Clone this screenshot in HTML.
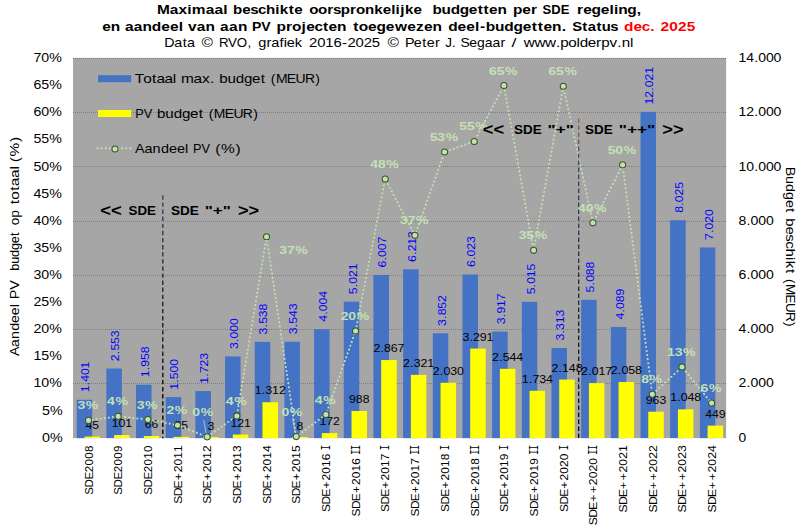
<!DOCTYPE html>
<html><head><meta charset="utf-8"><title>SDE budgetten</title>
<style>html,body{margin:0;padding:0;background:#fff}svg{display:block}text{font-family:"Liberation Sans",sans-serif}text.mono{font-family:"Liberation Mono",monospace}</style>
</head><body>
<svg width="801" height="531" viewBox="0 0 801 531" font-family="Liberation Sans, sans-serif">
<rect x="0" y="0" width="801" height="531" fill="#fff"/>
<rect x="73.00" y="57.9" width="653.15" height="380.2" fill="#a6a6a6"/>
<line x1="73" x2="726.15" y1="383.50" y2="383.50" stroke="#7c7c7c" stroke-width="1" stroke-dasharray="1,1"/>
<line x1="73" x2="726.15" y1="329.50" y2="329.50" stroke="#7c7c7c" stroke-width="1" stroke-dasharray="1,1"/>
<line x1="73" x2="726.15" y1="275.50" y2="275.50" stroke="#7c7c7c" stroke-width="1" stroke-dasharray="1,1"/>
<line x1="73" x2="726.15" y1="221.50" y2="221.50" stroke="#7c7c7c" stroke-width="1" stroke-dasharray="1,1"/>
<line x1="73" x2="726.15" y1="166.50" y2="166.50" stroke="#7c7c7c" stroke-width="1" stroke-dasharray="1,1"/>
<line x1="73" x2="726.15" y1="112.50" y2="112.50" stroke="#7c7c7c" stroke-width="1" stroke-dasharray="1,1"/>
<line x1="73" x2="726.15" y1="58.50" y2="58.50" stroke="#7c7c7c" stroke-width="1" stroke-dasharray="1,1"/>
<rect x="76.70" y="399.81" width="15.5" height="38.29" fill="#4472c4"/>
<rect x="106.37" y="368.58" width="15.5" height="69.52" fill="#4472c4"/>
<rect x="136.05" y="384.71" width="15.5" height="53.39" fill="#4472c4"/>
<rect x="165.72" y="397.13" width="15.5" height="40.97" fill="#4472c4"/>
<rect x="195.40" y="391.08" width="15.5" height="47.02" fill="#4472c4"/>
<rect x="225.07" y="356.46" width="15.5" height="81.64" fill="#4472c4"/>
<rect x="254.74" y="341.87" width="15.5" height="96.23" fill="#4472c4"/>
<rect x="284.42" y="341.73" width="15.5" height="96.37" fill="#4472c4"/>
<rect x="314.09" y="329.23" width="15.5" height="108.87" fill="#4472c4"/>
<rect x="343.77" y="301.66" width="15.5" height="136.44" fill="#4472c4"/>
<rect x="373.44" y="274.92" width="15.5" height="163.18" fill="#4472c4"/>
<rect x="403.11" y="269.34" width="15.5" height="168.76" fill="#4472c4"/>
<rect x="432.79" y="333.36" width="15.5" height="104.74" fill="#4472c4"/>
<rect x="462.46" y="274.49" width="15.5" height="163.61" fill="#4472c4"/>
<rect x="492.14" y="331.59" width="15.5" height="106.51" fill="#4472c4"/>
<rect x="521.81" y="301.82" width="15.5" height="136.28" fill="#4472c4"/>
<rect x="551.48" y="347.97" width="15.5" height="90.13" fill="#4472c4"/>
<rect x="581.16" y="299.84" width="15.5" height="138.26" fill="#4472c4"/>
<rect x="610.83" y="326.93" width="15.5" height="111.17" fill="#4472c4"/>
<rect x="640.51" y="111.86" width="15.5" height="326.24" fill="#4472c4"/>
<rect x="670.18" y="220.21" width="15.5" height="217.89" fill="#4472c4"/>
<rect x="699.85" y="247.46" width="15.5" height="190.64" fill="#4472c4"/>
<rect x="84.45" y="436.58" width="15.5" height="1.52" fill="#ffff00"/>
<rect x="114.12" y="435.06" width="15.5" height="3.04" fill="#ffff00"/>
<rect x="143.80" y="436.01" width="15.5" height="2.09" fill="#ffff00"/>
<rect x="173.47" y="436.85" width="15.5" height="1.25" fill="#ffff00"/>
<rect x="203.15" y="437.00" width="15.5" height="1.10" fill="#ffff00"/>
<rect x="232.82" y="434.52" width="15.5" height="3.58" fill="#ffff00"/>
<rect x="262.49" y="402.23" width="15.5" height="35.87" fill="#ffff00"/>
<rect x="292.17" y="437.00" width="15.5" height="1.10" fill="#ffff00"/>
<rect x="321.84" y="433.14" width="15.5" height="4.96" fill="#ffff00"/>
<rect x="351.52" y="411.01" width="15.5" height="27.09" fill="#ffff00"/>
<rect x="381.19" y="360.06" width="15.5" height="78.04" fill="#ffff00"/>
<rect x="410.86" y="374.87" width="15.5" height="63.23" fill="#ffff00"/>
<rect x="440.54" y="382.76" width="15.5" height="55.34" fill="#ffff00"/>
<rect x="470.21" y="348.57" width="15.5" height="89.53" fill="#ffff00"/>
<rect x="499.89" y="368.82" width="15.5" height="69.28" fill="#ffff00"/>
<rect x="529.56" y="390.78" width="15.5" height="47.32" fill="#ffff00"/>
<rect x="559.23" y="379.56" width="15.5" height="58.54" fill="#ffff00"/>
<rect x="588.91" y="383.11" width="15.5" height="54.99" fill="#ffff00"/>
<rect x="618.58" y="382.00" width="15.5" height="56.10" fill="#ffff00"/>
<rect x="648.26" y="411.69" width="15.5" height="26.41" fill="#ffff00"/>
<rect x="677.93" y="409.38" width="15.5" height="28.72" fill="#ffff00"/>
<rect x="707.60" y="425.63" width="15.5" height="12.47" fill="#ffff00"/>
<g transform="translate(89.45,392.31) rotate(-90)" fill="#0000ff" font-size="10.8"><text transform="translate(0.00,0) scale(1.135,1)" x="-0.05 6.10 9.25 15.16 21.07">1.401</text></g>
<g transform="translate(119.12,361.08) rotate(-90)" fill="#0000ff" font-size="10.8"><text transform="translate(0.00,0) scale(1.135,1)" x="-0.05 6.10 9.25 15.16 21.07">2.553</text></g>
<g transform="translate(148.80,377.21) rotate(-90)" fill="#0000ff" font-size="10.8"><text transform="translate(0.00,0) scale(1.135,1)" x="-0.05 6.10 9.25 15.16 21.07">1.958</text></g>
<g transform="translate(178.47,389.63) rotate(-90)" fill="#0000ff" font-size="10.8"><text transform="translate(0.00,0) scale(1.135,1)" x="-0.05 6.10 9.25 15.16 21.07">1.500</text></g>
<g transform="translate(208.15,383.58) rotate(-90)" fill="#0000ff" font-size="10.8"><text transform="translate(0.00,0) scale(1.135,1)" x="-0.05 6.10 9.25 15.16 21.07">1.723</text></g>
<g transform="translate(237.82,348.96) rotate(-90)" fill="#0000ff" font-size="10.8"><text transform="translate(0.00,0) scale(1.135,1)" x="-0.05 6.10 9.25 15.16 21.07">3.000</text></g>
<g transform="translate(267.49,334.37) rotate(-90)" fill="#0000ff" font-size="10.8"><text transform="translate(0.00,0) scale(1.135,1)" x="-0.05 6.10 9.25 15.16 21.07">3.538</text></g>
<g transform="translate(297.17,334.23) rotate(-90)" fill="#0000ff" font-size="10.8"><text transform="translate(0.00,0) scale(1.135,1)" x="-0.05 6.10 9.25 15.16 21.07">3.543</text></g>
<g transform="translate(326.84,321.73) rotate(-90)" fill="#0000ff" font-size="10.8"><text transform="translate(0.00,0) scale(1.135,1)" x="-0.05 6.10 9.25 15.16 21.07">4.004</text></g>
<g transform="translate(356.52,294.16) rotate(-90)" fill="#0000ff" font-size="10.8"><text transform="translate(0.00,0) scale(1.135,1)" x="-0.05 6.10 9.25 15.16 21.07">5.021</text></g>
<g transform="translate(386.19,267.42) rotate(-90)" fill="#0000ff" font-size="10.8"><text transform="translate(0.00,0) scale(1.135,1)" x="-0.05 6.10 9.25 15.16 21.07">6.007</text></g>
<g transform="translate(415.86,261.84) rotate(-90)" fill="#0000ff" font-size="10.8"><text transform="translate(0.00,0) scale(1.135,1)" x="-0.05 6.10 9.25 15.16 21.07">6.213</text></g>
<g transform="translate(445.54,325.86) rotate(-90)" fill="#0000ff" font-size="10.8"><text transform="translate(0.00,0) scale(1.135,1)" x="-0.05 6.10 9.25 15.16 21.07">3.852</text></g>
<g transform="translate(475.21,266.99) rotate(-90)" fill="#0000ff" font-size="10.8"><text transform="translate(0.00,0) scale(1.135,1)" x="-0.05 6.10 9.25 15.16 21.07">6.023</text></g>
<g transform="translate(504.89,324.09) rotate(-90)" fill="#0000ff" font-size="10.8"><text transform="translate(0.00,0) scale(1.135,1)" x="-0.05 6.10 9.25 15.16 21.07">3.917</text></g>
<g transform="translate(534.56,294.32) rotate(-90)" fill="#0000ff" font-size="10.8"><text transform="translate(0.00,0) scale(1.135,1)" x="-0.05 6.10 9.25 15.16 21.07">5.015</text></g>
<g transform="translate(564.23,340.47) rotate(-90)" fill="#0000ff" font-size="10.8"><text transform="translate(0.00,0) scale(1.135,1)" x="-0.05 6.10 9.25 15.16 21.07">3.313</text></g>
<g transform="translate(593.91,292.34) rotate(-90)" fill="#0000ff" font-size="10.8"><text transform="translate(0.00,0) scale(1.135,1)" x="-0.05 6.10 9.25 15.16 21.07">5.088</text></g>
<g transform="translate(623.58,319.43) rotate(-90)" fill="#0000ff" font-size="10.8"><text transform="translate(0.00,0) scale(1.135,1)" x="-0.05 6.10 9.25 15.16 21.07">4.089</text></g>
<g transform="translate(653.26,104.36) rotate(-90)" fill="#0000ff" font-size="10.8"><text transform="translate(0.00,0) scale(1.132,1)" x="-0.04 5.89 12.05 15.21 21.14 27.07">12.021</text></g>
<g transform="translate(682.93,212.71) rotate(-90)" fill="#0000ff" font-size="10.8"><text transform="translate(0.00,0) scale(1.135,1)" x="-0.05 6.10 9.25 15.16 21.07">8.025</text></g>
<g transform="translate(712.60,239.96) rotate(-90)" fill="#0000ff" font-size="10.8"><text transform="translate(0.00,0) scale(1.135,1)" x="-0.05 6.10 9.25 15.16 21.07">7.020</text></g>
<g transform="translate(92.20,428.68)" fill="#000" font-size="10.8"><text transform="translate(-6.77,0) scale(1.128,1)" x="0.00 6.01">45</text></g>
<g transform="translate(121.87,427.16)" fill="#000" font-size="10.8"><text transform="translate(-10.16,0) scale(1.128,1)" x="0.00 6.01 12.01">101</text></g>
<g transform="translate(151.55,428.11)" fill="#000" font-size="10.8"><text transform="translate(-6.77,0) scale(1.128,1)" x="0.00 6.01">66</text></g>
<g transform="translate(181.22,428.95)" fill="#000" font-size="10.8"><text transform="translate(-6.77,0) scale(1.128,1)" x="0.00 6.01">35</text></g>
<g transform="translate(210.90,429.82)" fill="#000" font-size="10.8"><text transform="translate(-3.39,0) scale(1.128,1)" x="0.00">3</text></g>
<g transform="translate(240.57,426.62)" fill="#000" font-size="10.8"><text transform="translate(-10.16,0) scale(1.128,1)" x="0.00 6.01 12.01">121</text></g>
<g transform="translate(270.24,394.33)" fill="#000" font-size="10.8"><text transform="translate(-15.49,0) scale(1.146,1)" x="-0.05 6.10 9.25 15.16 21.07">1.312</text></g>
<g transform="translate(299.92,429.68)" fill="#000" font-size="10.8"><text transform="translate(-3.39,0) scale(1.128,1)" x="0.00">8</text></g>
<g transform="translate(329.59,425.24)" fill="#000" font-size="10.8"><text transform="translate(-10.16,0) scale(1.128,1)" x="0.00 6.01 12.01">172</text></g>
<g transform="translate(359.27,403.11)" fill="#000" font-size="10.8"><text transform="translate(-10.16,0) scale(1.128,1)" x="0.00 6.01 12.01">988</text></g>
<g transform="translate(388.94,352.16)" fill="#000" font-size="10.8"><text transform="translate(-15.49,0) scale(1.146,1)" x="-0.05 6.10 9.25 15.16 21.07">2.867</text></g>
<g transform="translate(418.61,366.97)" fill="#000" font-size="10.8"><text transform="translate(-15.49,0) scale(1.146,1)" x="-0.05 6.10 9.25 15.16 21.07">2.321</text></g>
<g transform="translate(448.29,374.86)" fill="#000" font-size="10.8"><text transform="translate(-15.49,0) scale(1.146,1)" x="-0.05 6.10 9.25 15.16 21.07">2.030</text></g>
<g transform="translate(477.96,340.67)" fill="#000" font-size="10.8"><text transform="translate(-15.49,0) scale(1.146,1)" x="-0.05 6.10 9.25 15.16 21.07">3.291</text></g>
<g transform="translate(507.64,360.92)" fill="#000" font-size="10.8"><text transform="translate(-15.49,0) scale(1.146,1)" x="-0.05 6.10 9.25 15.16 21.07">2.544</text></g>
<g transform="translate(537.31,382.88)" fill="#000" font-size="10.8"><text transform="translate(-15.49,0) scale(1.146,1)" x="-0.05 6.10 9.25 15.16 21.07">1.734</text></g>
<g transform="translate(566.98,371.66)" fill="#000" font-size="10.8"><text transform="translate(-15.49,0) scale(1.146,1)" x="-0.05 6.10 9.25 15.16 21.07">2.148</text></g>
<g transform="translate(596.66,375.21)" fill="#000" font-size="10.8"><text transform="translate(-15.49,0) scale(1.146,1)" x="-0.05 6.10 9.25 15.16 21.07">2.017</text></g>
<g transform="translate(626.33,374.10)" fill="#000" font-size="10.8"><text transform="translate(-15.49,0) scale(1.146,1)" x="-0.05 6.10 9.25 15.16 21.07">2.058</text></g>
<g transform="translate(656.01,403.79)" fill="#000" font-size="10.8"><text transform="translate(-10.16,0) scale(1.128,1)" x="0.00 6.01 12.01">963</text></g>
<g transform="translate(685.68,401.48)" fill="#000" font-size="10.8"><text transform="translate(-15.49,0) scale(1.146,1)" x="-0.05 6.10 9.25 15.16 21.07">1.048</text></g>
<g transform="translate(715.35,417.73)" fill="#000" font-size="10.8"><text transform="translate(-10.16,0) scale(1.128,1)" x="0.00 6.01 12.01">449</text></g>
<polyline fill="none" stroke="#c5e0b3" stroke-width="2" stroke-linecap="round" stroke-dasharray="0.1,4" points="88.49,420.38 118.16,416.35 147.84,419.52 177.51,425.15 207.18,436.86 236.86,415.93 266.53,236.70 296.21,436.58 325.88,414.51 355.55,331.09 385.23,178.98 414.90,235.22 444.58,152.02 474.25,141.49 503.92,85.60 533.60,250.30 563.27,86.21 592.94,222.83 622.62,164.87 652.29,394.36 681.97,366.98 711.64,403.12"/>
<line x1="203.7" y1="420" x2="206.3" y2="434" stroke="#d0d0d0" stroke-width="0.8"/>
<line x1="292.5" y1="418" x2="295.3" y2="433" stroke="#d0d0d0" stroke-width="0.8"/>
<circle cx="88.49" cy="420.38" r="3.05" fill="#c5e0b3" stroke="#375623" stroke-width="1.05"/>
<circle cx="118.16" cy="416.35" r="3.05" fill="#c5e0b3" stroke="#375623" stroke-width="1.05"/>
<circle cx="147.84" cy="419.52" r="3.05" fill="#c5e0b3" stroke="#375623" stroke-width="1.05"/>
<circle cx="177.51" cy="425.15" r="3.05" fill="#c5e0b3" stroke="#375623" stroke-width="1.05"/>
<circle cx="207.18" cy="436.86" r="3.05" fill="#c5e0b3" stroke="#375623" stroke-width="1.05"/>
<circle cx="236.86" cy="415.93" r="3.05" fill="#c5e0b3" stroke="#375623" stroke-width="1.05"/>
<circle cx="266.53" cy="236.70" r="3.05" fill="#c5e0b3" stroke="#375623" stroke-width="1.05"/>
<circle cx="296.21" cy="436.58" r="3.05" fill="#c5e0b3" stroke="#375623" stroke-width="1.05"/>
<circle cx="325.88" cy="414.51" r="3.05" fill="#c5e0b3" stroke="#375623" stroke-width="1.05"/>
<circle cx="355.55" cy="331.09" r="3.05" fill="#c5e0b3" stroke="#375623" stroke-width="1.05"/>
<circle cx="385.23" cy="178.98" r="3.05" fill="#c5e0b3" stroke="#375623" stroke-width="1.05"/>
<circle cx="414.90" cy="235.22" r="3.05" fill="#c5e0b3" stroke="#375623" stroke-width="1.05"/>
<circle cx="444.58" cy="152.02" r="3.05" fill="#c5e0b3" stroke="#375623" stroke-width="1.05"/>
<circle cx="474.25" cy="141.49" r="3.05" fill="#c5e0b3" stroke="#375623" stroke-width="1.05"/>
<circle cx="503.92" cy="85.60" r="3.05" fill="#c5e0b3" stroke="#375623" stroke-width="1.05"/>
<circle cx="533.60" cy="250.30" r="3.05" fill="#c5e0b3" stroke="#375623" stroke-width="1.05"/>
<circle cx="563.27" cy="86.21" r="3.05" fill="#c5e0b3" stroke="#375623" stroke-width="1.05"/>
<circle cx="592.94" cy="222.83" r="3.05" fill="#c5e0b3" stroke="#375623" stroke-width="1.05"/>
<circle cx="622.62" cy="164.87" r="3.05" fill="#c5e0b3" stroke="#375623" stroke-width="1.05"/>
<circle cx="652.29" cy="394.36" r="3.05" fill="#c5e0b3" stroke="#375623" stroke-width="1.05"/>
<circle cx="681.97" cy="366.98" r="3.05" fill="#c5e0b3" stroke="#375623" stroke-width="1.05"/>
<circle cx="711.64" cy="403.12" r="3.05" fill="#c5e0b3" stroke="#375623" stroke-width="1.05"/>
<g transform="translate(88.19,409.38)" fill="#c5e0b3" font-size="10.8" font-weight="bold"><text transform="translate(-10.71,0) scale(1.300,1)" x="-0.05 6.39">3%</text></g>
<g transform="translate(117.86,405.35)" fill="#c5e0b3" font-size="10.8" font-weight="bold"><text transform="translate(-10.71,0) scale(1.300,1)" x="-0.05 6.39">4%</text></g>
<g transform="translate(147.53,408.52)" fill="#c5e0b3" font-size="10.8" font-weight="bold"><text transform="translate(-10.71,0) scale(1.300,1)" x="-0.05 6.39">3%</text></g>
<g transform="translate(177.21,414.15)" fill="#c5e0b3" font-size="10.8" font-weight="bold"><text transform="translate(-10.71,0) scale(1.300,1)" x="-0.05 6.39">2%</text></g>
<g transform="translate(203.10,416.20)" fill="#c5e0b3" font-size="10.8" font-weight="bold"><text transform="translate(-10.71,0) scale(1.300,1)" x="-0.05 6.39">0%</text></g>
<g transform="translate(236.56,404.93)" fill="#c5e0b3" font-size="10.8" font-weight="bold"><text transform="translate(-10.71,0) scale(1.300,1)" x="-0.05 6.39">4%</text></g>
<g transform="translate(293.90,254.00)" fill="#c5e0b3" font-size="10.8" font-weight="bold"><text transform="translate(-14.55,0) scale(1.300,1)" x="-0.05 5.86 12.30">37%</text></g>
<g transform="translate(292.20,415.50)" fill="#c5e0b3" font-size="10.8" font-weight="bold"><text transform="translate(-10.71,0) scale(1.300,1)" x="-0.05 6.39">0%</text></g>
<g transform="translate(325.58,403.51)" fill="#c5e0b3" font-size="10.8" font-weight="bold"><text transform="translate(-10.71,0) scale(1.300,1)" x="-0.05 6.39">4%</text></g>
<g transform="translate(355.25,320.09)" fill="#c5e0b3" font-size="10.8" font-weight="bold"><text transform="translate(-14.55,0) scale(1.300,1)" x="-0.05 5.86 12.30">20%</text></g>
<g transform="translate(384.93,167.98)" fill="#c5e0b3" font-size="10.8" font-weight="bold"><text transform="translate(-14.55,0) scale(1.300,1)" x="-0.05 5.86 12.30">48%</text></g>
<g transform="translate(414.60,224.22)" fill="#c5e0b3" font-size="10.8" font-weight="bold"><text transform="translate(-14.55,0) scale(1.300,1)" x="-0.05 5.86 12.30">37%</text></g>
<g transform="translate(444.28,141.02)" fill="#c5e0b3" font-size="10.8" font-weight="bold"><text transform="translate(-14.55,0) scale(1.300,1)" x="-0.05 5.86 12.30">53%</text></g>
<g transform="translate(473.95,130.49)" fill="#c5e0b3" font-size="10.8" font-weight="bold"><text transform="translate(-14.55,0) scale(1.300,1)" x="-0.05 5.86 12.30">55%</text></g>
<g transform="translate(503.62,74.60)" fill="#c5e0b3" font-size="10.8" font-weight="bold"><text transform="translate(-14.55,0) scale(1.300,1)" x="-0.05 5.86 12.30">65%</text></g>
<g transform="translate(533.30,239.30)" fill="#c5e0b3" font-size="10.8" font-weight="bold"><text transform="translate(-14.55,0) scale(1.300,1)" x="-0.05 5.86 12.30">35%</text></g>
<g transform="translate(562.97,75.21)" fill="#c5e0b3" font-size="10.8" font-weight="bold"><text transform="translate(-14.55,0) scale(1.300,1)" x="-0.05 5.86 12.30">65%</text></g>
<g transform="translate(592.64,211.83)" fill="#c5e0b3" font-size="10.8" font-weight="bold"><text transform="translate(-14.55,0) scale(1.300,1)" x="-0.05 5.86 12.30">40%</text></g>
<g transform="translate(622.32,153.87)" fill="#c5e0b3" font-size="10.8" font-weight="bold"><text transform="translate(-14.55,0) scale(1.300,1)" x="-0.05 5.86 12.30">50%</text></g>
<g transform="translate(651.99,383.36)" fill="#c5e0b3" font-size="10.8" font-weight="bold"><text transform="translate(-10.71,0) scale(1.300,1)" x="-0.05 6.39">8%</text></g>
<g transform="translate(681.67,355.98)" fill="#c5e0b3" font-size="10.8" font-weight="bold"><text transform="translate(-14.55,0) scale(1.300,1)" x="-0.05 5.86 12.30">13%</text></g>
<g transform="translate(711.34,392.12)" fill="#c5e0b3" font-size="10.8" font-weight="bold"><text transform="translate(-10.71,0) scale(1.300,1)" x="-0.05 6.39">6%</text></g>
<g transform="translate(92.74,445.30) rotate(-90)" fill="#000" font-size="10.8"><text transform="translate(-49.32,0) scale(1.067,1)" x="-0.19 6.78 14.08 21.01 27.36 33.71 40.05">SDE2008</text></g>
<g transform="translate(122.41,445.30) rotate(-90)" fill="#000" font-size="10.8"><text transform="translate(-49.32,0) scale(1.067,1)" x="-0.19 6.78 14.08 21.01 27.36 33.71 40.05">SDE2009</text></g>
<g transform="translate(152.09,445.30) rotate(-90)" fill="#000" font-size="10.8"><text transform="translate(-49.32,0) scale(1.067,1)" x="-0.19 6.78 14.08 21.01 27.36 33.71 40.05">SDE2010</text></g>
<g transform="translate(181.76,445.30) rotate(-90)" fill="#000" font-size="10.8"><text transform="translate(-58.03,0) scale(1.122,1)" x="-0.35 6.26 13.21 20.55 27.60 33.64 39.68 45.72">SDE+2011</text></g>
<g transform="translate(211.43,445.30) rotate(-90)" fill="#000" font-size="10.8"><text transform="translate(-58.03,0) scale(1.105,1)" x="-0.30 6.41 13.47 20.91 28.07 34.21 40.34 46.47">SDE+2012</text></g>
<g transform="translate(241.11,445.30) rotate(-90)" fill="#000" font-size="10.8"><text transform="translate(-58.03,0) scale(1.105,1)" x="-0.30 6.41 13.47 20.91 28.07 34.21 40.34 46.47">SDE+2013</text></g>
<g transform="translate(270.78,445.30) rotate(-90)" fill="#000" font-size="10.8"><text transform="translate(-58.03,0) scale(1.105,1)" x="-0.30 6.41 13.47 20.91 28.07 34.21 40.34 46.47">SDE+2014</text></g>
<g transform="translate(300.46,445.30) rotate(-90)" fill="#000" font-size="10.8"><text transform="translate(-58.03,0) scale(1.105,1)" x="-0.30 6.41 13.47 20.91 28.07 34.21 40.34 46.47">SDE+2015</text></g>
<g transform="translate(330.13,445.30) rotate(-90)" fill="#000" font-size="10.8"><text transform="translate(-66.26,0) scale(1.105,1)" x="-0.30 6.41 13.47 20.91 28.07 34.21 40.34 46.47">SDE+2016</text><text transform="translate(-4.88,0) scale(0.74,1)" class="mono" font-size="11.88">I</text></g>
<g transform="translate(359.80,445.30) rotate(-90)" fill="#000" font-size="10.8"><text transform="translate(-70.75,0) scale(1.105,1)" x="-0.30 6.41 13.47 20.91 28.07 34.21 40.34 46.47">SDE+2016</text><text transform="translate(-9.36,0) scale(0.74,1)" class="mono" font-size="11.88">I</text><text transform="translate(-4.88,0) scale(0.74,1)" class="mono" font-size="11.88">I</text></g>
<g transform="translate(389.48,445.30) rotate(-90)" fill="#000" font-size="10.8"><text transform="translate(-66.26,0) scale(1.105,1)" x="-0.30 6.41 13.47 20.91 28.07 34.21 40.34 46.47">SDE+2017</text><text transform="translate(-4.88,0) scale(0.74,1)" class="mono" font-size="11.88">I</text></g>
<g transform="translate(419.15,445.30) rotate(-90)" fill="#000" font-size="10.8"><text transform="translate(-70.75,0) scale(1.105,1)" x="-0.30 6.41 13.47 20.91 28.07 34.21 40.34 46.47">SDE+2017</text><text transform="translate(-9.36,0) scale(0.74,1)" class="mono" font-size="11.88">I</text><text transform="translate(-4.88,0) scale(0.74,1)" class="mono" font-size="11.88">I</text></g>
<g transform="translate(448.83,445.30) rotate(-90)" fill="#000" font-size="10.8"><text transform="translate(-66.26,0) scale(1.105,1)" x="-0.30 6.41 13.47 20.91 28.07 34.21 40.34 46.47">SDE+2018</text><text transform="translate(-4.88,0) scale(0.74,1)" class="mono" font-size="11.88">I</text></g>
<g transform="translate(478.50,445.30) rotate(-90)" fill="#000" font-size="10.8"><text transform="translate(-70.75,0) scale(1.105,1)" x="-0.30 6.41 13.47 20.91 28.07 34.21 40.34 46.47">SDE+2018</text><text transform="translate(-9.36,0) scale(0.74,1)" class="mono" font-size="11.88">I</text><text transform="translate(-4.88,0) scale(0.74,1)" class="mono" font-size="11.88">I</text></g>
<g transform="translate(508.17,445.30) rotate(-90)" fill="#000" font-size="10.8"><text transform="translate(-66.26,0) scale(1.105,1)" x="-0.30 6.41 13.47 20.91 28.07 34.21 40.34 46.47">SDE+2019</text><text transform="translate(-4.88,0) scale(0.74,1)" class="mono" font-size="11.88">I</text></g>
<g transform="translate(537.85,445.30) rotate(-90)" fill="#000" font-size="10.8"><text transform="translate(-70.75,0) scale(1.105,1)" x="-0.30 6.41 13.47 20.91 28.07 34.21 40.34 46.47">SDE+2019</text><text transform="translate(-9.36,0) scale(0.74,1)" class="mono" font-size="11.88">I</text><text transform="translate(-4.88,0) scale(0.74,1)" class="mono" font-size="11.88">I</text></g>
<g transform="translate(567.52,445.30) rotate(-90)" fill="#000" font-size="10.8"><text transform="translate(-66.26,0) scale(1.105,1)" x="-0.30 6.41 13.47 20.91 28.07 34.21 40.34 46.47">SDE+2020</text><text transform="translate(-4.88,0) scale(0.74,1)" class="mono" font-size="11.88">I</text></g>
<g transform="translate(597.19,445.30) rotate(-90)" fill="#000" font-size="10.8"><text transform="translate(-79.46,0) scale(1.134,1)" x="-0.39 6.14 13.03 20.28 27.96 34.94 40.91 46.89 52.86">SDE++2020</text><text transform="translate(-9.36,0) scale(0.74,1)" class="mono" font-size="11.88">I</text><text transform="translate(-4.88,0) scale(0.74,1)" class="mono" font-size="11.88">I</text></g>
<g transform="translate(626.87,445.30) rotate(-90)" fill="#000" font-size="10.8"><text transform="translate(-66.74,0) scale(1.134,1)" x="-0.39 6.14 13.03 20.28 27.96 34.94 40.91 46.89 52.86">SDE++2021</text></g>
<g transform="translate(656.54,445.30) rotate(-90)" fill="#000" font-size="10.8"><text transform="translate(-66.74,0) scale(1.134,1)" x="-0.39 6.14 13.03 20.28 27.96 34.94 40.91 46.89 52.86">SDE++2022</text></g>
<g transform="translate(686.22,445.30) rotate(-90)" fill="#000" font-size="10.8"><text transform="translate(-66.74,0) scale(1.134,1)" x="-0.39 6.14 13.03 20.28 27.96 34.94 40.91 46.89 52.86">SDE++2023</text></g>
<g transform="translate(715.89,445.30) rotate(-90)" fill="#000" font-size="10.8"><text transform="translate(-66.74,0) scale(1.134,1)" x="-0.39 6.14 13.03 20.28 27.96 34.94 40.91 46.89 52.86">SDE++2024</text></g>
<g transform="translate(62.90,441.70)" fill="#000" font-size="11.9"><text transform="translate(-20.72,0) scale(1.204,1)" x="-0.11 6.50">0%</text></g>
<g transform="translate(62.90,414.59)" fill="#000" font-size="11.9"><text transform="translate(-20.72,0) scale(1.204,1)" x="-0.11 6.50">5%</text></g>
<g transform="translate(62.00,387.47)" fill="#000" font-size="11.9"><text transform="translate(-28.41,0) scale(1.193,1)" x="-0.08 6.37 13.07">10%</text></g>
<g transform="translate(62.00,360.36)" fill="#000" font-size="11.9"><text transform="translate(-28.41,0) scale(1.193,1)" x="-0.08 6.37 13.07">15%</text></g>
<g transform="translate(62.00,333.24)" fill="#000" font-size="11.9"><text transform="translate(-28.41,0) scale(1.193,1)" x="-0.08 6.37 13.07">20%</text></g>
<g transform="translate(62.00,306.13)" fill="#000" font-size="11.9"><text transform="translate(-28.41,0) scale(1.193,1)" x="-0.08 6.37 13.07">25%</text></g>
<g transform="translate(62.00,279.01)" fill="#000" font-size="11.9"><text transform="translate(-28.41,0) scale(1.193,1)" x="-0.08 6.37 13.07">30%</text></g>
<g transform="translate(62.00,251.90)" fill="#000" font-size="11.9"><text transform="translate(-28.41,0) scale(1.193,1)" x="-0.08 6.37 13.07">35%</text></g>
<g transform="translate(62.00,224.79)" fill="#000" font-size="11.9"><text transform="translate(-28.41,0) scale(1.193,1)" x="-0.08 6.37 13.07">40%</text></g>
<g transform="translate(62.00,197.67)" fill="#000" font-size="11.9"><text transform="translate(-28.41,0) scale(1.193,1)" x="-0.08 6.37 13.07">45%</text></g>
<g transform="translate(62.00,170.56)" fill="#000" font-size="11.9"><text transform="translate(-28.41,0) scale(1.193,1)" x="-0.08 6.37 13.07">50%</text></g>
<g transform="translate(62.00,143.44)" fill="#000" font-size="11.9"><text transform="translate(-28.41,0) scale(1.193,1)" x="-0.08 6.37 13.07">55%</text></g>
<g transform="translate(62.00,116.33)" fill="#000" font-size="11.9"><text transform="translate(-28.41,0) scale(1.193,1)" x="-0.08 6.37 13.07">60%</text></g>
<g transform="translate(62.00,89.21)" fill="#000" font-size="11.9"><text transform="translate(-28.41,0) scale(1.193,1)" x="-0.08 6.37 13.07">65%</text></g>
<g transform="translate(62.00,62.10)" fill="#000" font-size="11.9"><text transform="translate(-28.41,0) scale(1.193,1)" x="-0.08 6.37 13.07">70%</text></g>
<g transform="translate(738.50,441.70)" fill="#000" font-size="11.9"><text transform="translate(0.00,0) scale(1.163,1)" x="0.00">0</text></g>
<g transform="translate(738.50,387.47)" fill="#000" font-size="11.9"><text transform="translate(0.00,0) scale(1.182,1)" x="-0.05 6.72 10.19 16.70 23.21">2.000</text></g>
<g transform="translate(738.50,333.24)" fill="#000" font-size="11.9"><text transform="translate(0.00,0) scale(1.182,1)" x="-0.05 6.72 10.19 16.70 23.21">4.000</text></g>
<g transform="translate(738.50,279.01)" fill="#000" font-size="11.9"><text transform="translate(0.00,0) scale(1.182,1)" x="-0.05 6.72 10.19 16.70 23.21">6.000</text></g>
<g transform="translate(738.50,224.79)" fill="#000" font-size="11.9"><text transform="translate(0.00,0) scale(1.182,1)" x="-0.05 6.72 10.19 16.70 23.21">8.000</text></g>
<g transform="translate(738.50,170.56)" fill="#000" font-size="11.9"><text transform="translate(0.00,0) scale(1.178,1)" x="-0.04 6.49 13.28 16.76 23.29 29.82">10.000</text></g>
<g transform="translate(738.50,116.33)" fill="#000" font-size="11.9"><text transform="translate(0.00,0) scale(1.178,1)" x="-0.04 6.49 13.28 16.76 23.29 29.82">12.000</text></g>
<g transform="translate(738.50,62.10)" fill="#000" font-size="11.9"><text transform="translate(0.00,0) scale(1.178,1)" x="-0.04 6.49 13.28 16.76 23.29 29.82">14.000</text></g>
<g transform="translate(18.8,0) rotate(-90)">
<text transform="translate(-355.68,0.00) scale(1.185,1)" x="-0.24 7.42 14.15 20.99 27.63 34.13 40.86" font-size="11.9" fill="#000">Aandeel</text>
<text transform="translate(-298.84,0.00) scale(1.193,1)" x="-0.25 7.69" font-size="11.9" fill="#000">PV</text>
<text transform="translate(-270.76,0.00) scale(1.066,1)" x="-0.06 6.48 13.03 19.52 25.88 32.69" font-size="11.9" fill="#000">budget</text>
<text transform="translate(-225.30,0.00) scale(1.157,1)" x="-0.04 6.58" font-size="11.9" fill="#000">op</text>
<text transform="translate(-204.74,0.00) scale(1.300,1)" x="0.39 3.92 10.77 14.27 20.51 27.03" font-size="11.9" fill="#000">totaal</text>
<text transform="translate(-162.77,0.00) scale(1.300,1)" x="0.34 4.86 16.00" font-size="11.9" fill="#000">(%)</text>
</g>
<g transform="translate(785.7,0) rotate(90)">
<text transform="translate(167.15,0.00) scale(1.212,1)" x="-0.33 7.33 13.99 20.60 27.07 33.97" font-size="11.9" fill="#000">Budget</text>
<text transform="translate(218.36,0.00) scale(1.269,1)" x="-0.04 6.37 12.57 18.05 23.78 30.53 33.43 39.93" font-size="11.9" fill="#000">beschikt</text>
<text transform="translate(278.33,0.00) scale(1.138,1)" x="0.58 4.92 14.22 21.58 29.63 38.42" font-size="11.9" fill="#000">(MEUR)</text>
</g>
<text transform="translate(157.20,13.70) scale(1.300,1)" x="-0.16 9.66 16.42 23.19 26.63 37.34 44.10 50.86" font-size="11.9" font-weight="bold" fill="#000">Maximaal</text>
<text transform="translate(233.11,13.70) scale(1.270,1)" x="-0.07 7.19 13.60 19.61 25.91 33.26 36.76 43.83 48.21" font-size="11.9" font-weight="bold" fill="#000">beschikte</text>
<text transform="translate(309.43,13.70) scale(1.271,1)" x="-0.18 6.72 13.99 18.48 24.65 31.98 36.61 43.64 50.92 57.63 64.34 67.77 71.52 75.26 81.97" font-size="11.9" font-weight="bold" fill="#000">oorspronkelijke</text>
<text transform="translate(432.69,13.70) scale(1.289,1)" x="-0.15 6.90 13.94 20.92 28.04 34.96 39.51 43.78 50.32" font-size="11.9" font-weight="bold" fill="#000">budgetten</text>
<text transform="translate(513.20,13.70) scale(1.297,1)" x="-0.15 6.96 13.73" font-size="11.9" font-weight="bold" fill="#000">per</text>
<text transform="translate(542.48,13.70) scale(1.094,1)" x="-0.06 8.09 16.74" font-size="11.9" font-weight="bold" fill="#000">SDE</text>
<text transform="translate(576.79,13.70) scale(1.300,1)" x="0.16 4.95 11.41 18.52 25.18 28.59 31.86 38.88 46.14" font-size="11.9" font-weight="bold" fill="#000">regeling,</text>
<text transform="translate(102.13,30.70) scale(1.293,1)" x="0.04 6.66" font-size="11.9" font-weight="bold" fill="#000">en</text>
<text transform="translate(124.93,30.70) scale(1.300,1)" x="0.08 6.87 13.55 20.71 27.96 34.70 41.46" font-size="11.9" font-weight="bold" fill="#000">aandeel</text>
<text transform="translate(187.89,30.70) scale(1.300,1)" x="0.03 6.79 13.54" font-size="11.9" font-weight="bold" fill="#000">van</text>
<text transform="translate(219.82,30.70) scale(1.300,1)" x="0.17 7.12 13.98" font-size="11.9" font-weight="bold" fill="#000">aan</text>
<text transform="translate(251.99,30.70) scale(1.179,1)" x="-0.08 7.86" font-size="11.9" font-weight="bold" fill="#000">PV</text>
<text transform="translate(276.69,30.70) scale(1.300,1)" x="-0.15 7.14 11.72 19.14 22.81 29.06 35.59 39.85 46.39" font-size="11.9" font-weight="bold" fill="#000">projecten</text>
<text transform="translate(352.93,30.70) scale(1.300,1)" x="0.32 4.43 11.56 18.11 25.31 32.27 41.87 48.56 54.59 61.20" font-size="11.9" font-weight="bold" fill="#000">toegewezen</text>
<text transform="translate(448.31,30.70) scale(1.300,1)" x="-0.10 7.12 13.84 20.58 24.41 28.72 35.85 42.99 50.06 57.28 64.27 68.88 73.22 79.85 87.26" font-size="11.9" font-weight="bold" fill="#000">deel-budgetten.</text>
<text transform="translate(572.83,30.70) scale(1.248,1)" x="-0.38 7.51 11.87 18.88 23.13 30.06" font-size="11.9" font-weight="bold" fill="#000">Status</text>
<text transform="translate(623.93,30.70) scale(1.297,1)" x="-0.03 7.31 13.76 20.30" font-size="11.9" font-weight="bold" fill="#ff0000">dec.</text>
<text transform="translate(660.37,30.70) scale(1.300,1)" x="0.07 6.82 13.58 20.33" font-size="11.9" font-weight="bold" fill="#ff0000">2025</text>
<text transform="translate(164.60,46.80) scale(1.204,1)" x="-0.20 8.07 15.01 18.64" font-size="11.9" fill="#000">Data</text>
<text transform="translate(192.27,46.80) scale(1.300,1)" x="7.15" font-size="11.9" fill="#000">©</text>
<text transform="translate(219.30,46.80) scale(1.120,1)" x="-0.33 7.87 15.60 25.15" font-size="11.9" fill="#000">RVO,</text>
<text transform="translate(258.34,46.80) scale(1.225,1)" x="-0.10 6.64 10.61 17.18 20.74 23.23 29.69" font-size="11.9" fill="#000">grafiek</text>
<text transform="translate(309.11,46.80) scale(1.247,1)" x="-0.04 6.49 13.02 19.55 26.47 30.74 37.27 43.80 50.33" font-size="11.9" fill="#000">2016-2025</text>
<text transform="translate(378.27,46.80) scale(1.300,1)" x="7.15" font-size="11.9" fill="#000">©</text>
<text transform="translate(405.88,46.80) scale(1.205,1)" x="-0.69 6.49 13.53 17.25 24.14" font-size="11.9" fill="#000">Peter</text>
<text transform="translate(445.75,46.80) scale(1.129,1)" x="-0.40 5.55" font-size="11.9" fill="#000">J.</text>
<text transform="translate(460.67,46.80) scale(1.172,1)" x="-0.25 7.36 13.98 20.63 27.16 34.07" font-size="11.9" fill="#000">Segaar</text>
<text transform="translate(507.17,46.80) scale(1.500,1)" x="2.89" font-size="11.9" fill="#000">/</text>
<text transform="translate(523.99,46.80) scale(1.278,1)" x="-0.15 8.15 16.45 25.09 28.44 34.68 41.13 43.70 49.88 56.40 60.40 66.89 73.06 76.46 83.05" font-size="11.9" fill="#000">www.polderpv.nl</text>
<rect x="98" y="75.2" width="33.2" height="7" fill="#4472c4"/>
<rect x="98" y="110" width="33.2" height="7" fill="#ffff00"/>
<line x1="97.5" x2="131.5" y1="148.2" y2="148.2" stroke="#c5e0b3" stroke-width="2" stroke-linecap="round" stroke-dasharray="0.1,4"/>
<circle cx="115" cy="149" r="3.05" fill="#c5e0b3" stroke="#375623" stroke-width="1.05"/>
<g transform="translate(135.40,82.90)" fill="#000" font-size="11.9"><text transform="translate(0.00,0) scale(1.291,1)" x="-0.47 6.13 12.93 16.38 22.55 29.03">Totaal</text><text transform="translate(45.65,0) scale(1.300,1)" x="0.00 9.67 16.09 22.28">max.</text><text transform="translate(83.83,0) scale(1.271,1)" x="-0.06 6.48 13.03 19.52 25.88 32.69">budget</text><text transform="translate(134.77,0) scale(1.175,1)" x="0.58 4.92 14.22 21.58 29.63 38.42">(MEUR)</text></g>
<g transform="translate(135.40,117.80)" fill="#000" font-size="11.9"><text transform="translate(0.00,0) scale(1.074,1)" x="-0.25 7.69">PV</text><text transform="translate(21.72,0) scale(1.271,1)" x="-0.06 6.48 13.03 19.52 25.88 32.69">budget</text><text transform="translate(72.65,0) scale(1.175,1)" x="0.58 4.92 14.22 21.58 29.63 38.42">(MEUR)</text></g>
<g transform="translate(135.40,152.90)" fill="#000" font-size="11.9"><text transform="translate(0.00,0) scale(1.216,1)" x="-0.24 7.42 14.15 20.99 27.63 34.13 40.86">Aandeel</text><text transform="translate(57.76,0) scale(1.074,1)" x="-0.25 7.69">PV</text><text transform="translate(79.47,0) scale(1.300,1)" x="0.33 4.82 15.93">(%)</text></g>
<defs><linearGradient id="g1" gradientUnits="userSpaceOnUse" x1="0" y1="195" x2="0" y2="438"><stop offset="0" stop-color="#34465a"/><stop offset="0.5" stop-color="#1c242e"/><stop offset="1" stop-color="#000"/></linearGradient><linearGradient id="g2" gradientUnits="userSpaceOnUse" x1="0" y1="118" x2="0" y2="438"><stop offset="0" stop-color="#94603c"/><stop offset="0.06" stop-color="#7a583f"/><stop offset="0.12" stop-color="#3a465c"/><stop offset="0.5" stop-color="#1c242e"/><stop offset="1" stop-color="#000"/></linearGradient></defs>
<line x1="162.8" x2="162.81" y1="195.3" y2="438.2" stroke="url(#g1)" stroke-width="1.4" stroke-dasharray="4.4,2.7"/>
<line x1="578.7" x2="578.71" y1="118.5" y2="438" stroke="url(#g2)" stroke-width="1.25" stroke-dasharray="4.4,2.6"/>
<text transform="translate(100.17,216.37) scale(1.542,1.45)" font-size="11.9" font-weight="bold" fill="#000">&lt;&lt;</text>
<text transform="translate(128.60,214.60) scale(1.119,1)" font-size="11.9" font-weight="bold" fill="#000">SDE</text>
<text transform="translate(170.99,214.60) scale(1.140,1)" font-size="11.9" font-weight="bold" fill="#000">SDE</text>
<text transform="translate(204.69,214.60) scale(1.435,1)" font-size="11.9" font-weight="bold" fill="#000">&quot;+&quot;</text>
<text transform="translate(237.98,216.37) scale(1.519,1.45)" font-size="11.9" font-weight="bold" fill="#000">&gt;&gt;</text>
<text transform="translate(482.77,135.37) scale(1.534,1.45)" font-size="11.9" font-weight="bold" fill="#000">&lt;&lt;</text>
<text transform="translate(514.00,133.60) scale(1.132,1)" font-size="11.9" font-weight="bold" fill="#000">SDE</text>
<text transform="translate(547.59,133.60) scale(1.441,1)" font-size="11.9" font-weight="bold" fill="#000">&quot;+&quot;</text>
<text transform="translate(585.10,133.60) scale(1.132,1)" font-size="11.9" font-weight="bold" fill="#000">SDE</text>
<text transform="translate(618.67,133.60) scale(1.456,1)" font-size="11.9" font-weight="bold" fill="#000">&quot;++&quot;</text>
<text transform="translate(662.37,135.37) scale(1.534,1.45)" font-size="11.9" font-weight="bold" fill="#000">&gt;&gt;</text>
</svg>
</body></html>
